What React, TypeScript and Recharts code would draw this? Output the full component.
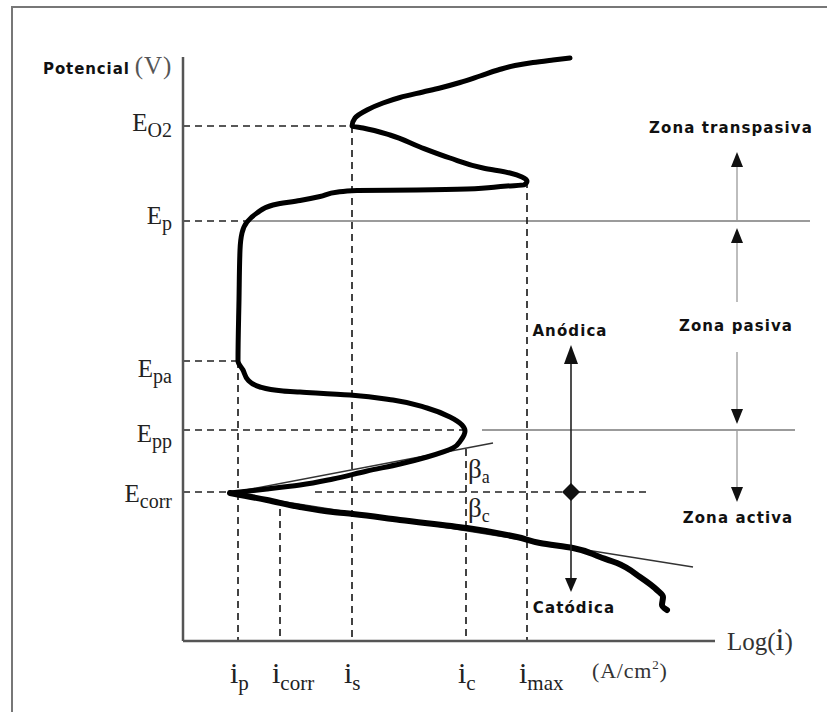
import React from 'react';
import { LineChart, Line, XAxis, YAxis, ReferenceLine, ReferenceDot } from 'recharts';

type Pt = { x: number; y: number };

// Characteristic current densities, on the log(i) scale
const currentNames = ['p', 'corr', 's', 'c', 'max'];
const currentLogI = [5.5, 9.7, 16.9, 28.3, 34.4];

// Characteristic potentials
const potentialNames = ['O2', 'p', 'pa', 'pp', 'corr'];
const potentialValues = [51.5, 42.0, 28.0, 21.1, 14.9];

// Anodic polarization curve: transpassive -> passive -> active, down to E_corr
const anodicBranch: Pt[] = [
  { x: 38.7, y: 58.3 }, { x: 37.0, y: 58.1 }, { x: 35.0, y: 57.85 }, { x: 33.2, y: 57.55 },
  { x: 31.5, y: 57.1 }, { x: 29.7, y: 56.5 }, { x: 27.7, y: 55.85 }, { x: 25.7, y: 55.3 },
  { x: 24.0, y: 54.9 }, { x: 21.7, y: 54.35 }, { x: 20.0, y: 53.8 }, { x: 18.4, y: 53.1 },
  { x: 17.2, y: 52.3 }, { x: 16.9, y: 51.5 }, { x: 18.0, y: 51.3 }, { x: 20.7, y: 50.6 },
  { x: 23.7, y: 49.4 }, { x: 26.7, y: 48.3 }, { x: 30.0, y: 47.3 }, { x: 32.7, y: 46.8 },
  { x: 33.9, y: 46.4 }, { x: 34.4, y: 46.0 }, { x: 34.1, y: 45.6 }, { x: 32.4, y: 45.5 },
  { x: 28.4, y: 45.2 }, { x: 23.4, y: 45.1 }, { x: 17.4, y: 45.05 }, { x: 15.5, y: 44.9 },
  { x: 13.7, y: 44.45 }, { x: 11.7, y: 44.05 }, { x: 9.0, y: 43.6 }, { x: 7.4, y: 42.8 },
  { x: 6.4, y: 41.9 }, { x: 5.9, y: 40.8 }, { x: 5.7, y: 39.1 }, { x: 5.6, y: 34.1 },
  { x: 5.5, y: 28.0 }, { x: 6.0, y: 27.1 }, { x: 6.5, y: 26.1 }, { x: 7.7, y: 25.4 },
  { x: 10.0, y: 25.0 }, { x: 11.7, y: 24.9 }, { x: 16.7, y: 24.6 }, { x: 21.0, y: 24.1 },
  { x: 24.4, y: 23.3 }, { x: 26.7, y: 22.4 }, { x: 27.9, y: 21.6 }, { x: 28.2, y: 21.0 },
  { x: 27.8, y: 20.1 }, { x: 27.0, y: 19.3 }, { x: 24.4, y: 18.4 }, { x: 21.7, y: 17.7 },
  { x: 18.4, y: 17.0 }, { x: 15.0, y: 16.2 }, { x: 11.7, y: 15.6 }, { x: 8.4, y: 15.2 },
  { x: 4.7, y: 14.8 },
];

// Cathodic polarization curve below E_corr
const cathodicBranch: Pt[] = [
  { x: 4.7, y: 14.8 }, { x: 8.4, y: 14.1 }, { x: 11.7, y: 13.4 }, { x: 15.0, y: 12.9 },
  { x: 17.0, y: 12.7 }, { x: 21.7, y: 12.1 }, { x: 28.4, y: 11.3 }, { x: 33.4, y: 10.4 },
  { x: 35.7, y: 9.8 }, { x: 39.0, y: 9.3 }, { x: 41.7, y: 8.4 }, { x: 43.4, y: 7.8 },
  { x: 45.7, y: 6.4 }, { x: 47.4, y: 5.1 }, { x: 48.0, y: 4.4 }, { x: 47.9, y: 3.6 },
  { x: 48.4, y: 3.1 },
];

// Tafel extrapolations from E_corr
const tafelAnodic: Pt[] = [{ x: 4.7, y: 14.8 }, { x: 31.0, y: 19.8 }];
const tafelCathodic: Pt[] = [{ x: 4.7, y: 14.8 }, { x: 51.0, y: 7.4 }];

const [iP, iCorr, iS, iC, iMax] = currentLogI;
const [eO2, eP, ePa, ePp, eCorr] = potentialValues;

const SERIF = 'Liberation Serif, Times New Roman, serif';
const HAND = 'DejaVu Sans, Verdana, sans-serif';

// vertical shift of each potential label relative to its level
const potentialLabelShift = [5, 3, 16, 12, 10];

const PotentialTick = (props: any) => {
  const { x, y, payload } = props;
  const idx = potentialValues.indexOf(payload.value);
  return (
    <text x={x - 11} y={y + potentialLabelShift[idx]} textAnchor="end" fontFamily={SERIF} fill="#222">
      <tspan fontSize={25}>E</tspan>
      <tspan fontSize={20} dy={6}>{potentialNames[idx]}</tspan>
    </text>
  );
};

const CurrentTick = (props: any) => {
  const { x, y, payload } = props;
  const idx = currentLogI.indexOf(payload.value);
  return (
    <text x={x - 8} y={y + 42} fontFamily={SERIF} fill="#222">
      <tspan fontSize={30}>i</tspan>
      <tspan fontSize={21} dy={7}>{currentNames[idx]}</tspan>
    </text>
  );
};

type ArrowOpts = { start?: boolean; end?: boolean; len: number; half: number; stem: string; stemWidth: number };

const arrowShape = (o: ArrowOpts) => (p: any) => {
  const { x1, y1, x2, y2 } = p;
  const dx = x2 - x1;
  const dy = y2 - y1;
  const L = Math.hypot(dx, dy) || 1;
  const ux = dx / L;
  const uy = dy / L;
  const head = (tx: number, ty: number, dx0: number, dy0: number) => {
    const bx = tx - dx0 * o.len;
    const by = ty - dy0 * o.len;
    const nx = -dy0;
    const ny = dx0;
    return `${tx},${ty} ${bx + nx * o.half},${by + ny * o.half} ${bx - nx * o.half},${by - ny * o.half}`;
  };
  const sx = o.start ? x1 + ux * o.len * 0.8 : x1;
  const sy = o.start ? y1 + uy * o.len * 0.8 : y1;
  const ex = o.end ? x2 - ux * o.len * 0.8 : x2;
  const ey = o.end ? y2 - uy * o.len * 0.8 : y2;
  return (
    <g>
      <line x1={sx} y1={sy} x2={ex} y2={ey} stroke={o.stem} strokeWidth={o.stemWidth} />
      {o.end && <polygon points={head(x2, y2, ux, uy)} fill="#111" />}
      {o.start && <polygon points={head(x1, y1, -ux, -uy)} fill="#111" />}
    </g>
  );
};

const zoneArrow = arrowShape({ end: true, len: 15, half: 6, stem: '#9a9a9a', stemWidth: 1.3 });
const anodicArrow = arrowShape({ end: true, len: 19, half: 7, stem: '#222', stemWidth: 1.6 });
const cathodicArrow = arrowShape({ end: true, len: 14, half: 6, stem: '#222', stemWidth: 1.6 });

const diamond = (p: any) => {
  const { cx, cy } = p;
  const s = 9;
  return <polygon points={`${cx},${cy - s} ${cx + s},${cy} ${cx},${cy + s} ${cx - s},${cy}`} fill="#111" />;
};

const handNote = (label: string, anchor: 'start' | 'middle' | 'end' = 'middle') => (p: any) => (
  <text x={p.cx} y={p.cy} textAnchor={anchor} fontFamily={HAND} fontWeight="bold" fontSize={15} letterSpacing={1.1} fill="#111">
    {label}
  </text>
);

const betaNote = (sub: string) => (p: any) => (
  <text x={p.cx} y={p.cy} fontFamily={SERIF} fill="#222">
    <tspan fontSize={27}>β</tspan>
    <tspan fontSize={18} dy={5}>{sub}</tspan>
  </text>
);

const potentialTitle = (p: any) => (
  <text x={p.cx} y={p.cy} fill="#111">
    <tspan fontFamily={HAND} fontWeight="bold" fontSize={15} letterSpacing={0.9}>Potencial</tspan>
    <tspan fontFamily={SERIF} fontSize={25} fill="#555" dx={5} letterSpacing={1}>(V)</tspan>
  </text>
);

const logTitle = (p: any) => (
  <text x={p.cx} y={p.cy} fontFamily={SERIF} fill="#333">
    <tspan fontSize={25}>Log(</tspan>
    <tspan fontSize={32}>i</tspan>
    <tspan fontSize={25}>)</tspan>
  </text>
);

const unitsTitle = (p: any) => (
  <text x={p.cx} y={p.cy} fontFamily={SERIF} fill="#333" fontSize={22} letterSpacing={0.8}>
    <tspan>(A/cm</tspan>
    <tspan fontSize={13} dy={-9}>2</tspan>
    <tspan dy={9}>)</tspan>
  </text>
);

const dashed = { stroke: '#222', strokeWidth: 1.7, strokeDasharray: '7 5' };
const thin = { stroke: '#7a7a7a', strokeWidth: 1.5 };

export default function App() {
  return (
    <div style={{ position: 'absolute', left: 0, top: 0, width: 827, height: 712, background: '#fff' }}>
      <div
        style={{
          position: 'absolute',
          left: 11,
          top: 6,
          width: 816,
          height: 706,
          borderLeft: '2px solid #777',
          borderTop: '2px solid #777',
        }}
      />
      <LineChart width={827} height={712} margin={{ top: 57, right: 112, bottom: 0, left: 0 }}>
        <XAxis
          dataKey="x"
          type="number"
          domain={[0, 53.2]}
          ticks={currentLogI}
          interval={0}
          tick={(p: any) => <CurrentTick {...p} />}
          tickLine={false}
          tickSize={0}
          tickMargin={0}
          height={71}
          axisLine={{ stroke: '#555', strokeWidth: 2.5 }}
        />
        <YAxis
          type="number"
          domain={[0, 58.4]}
          ticks={potentialValues}
          interval={0}
          tick={(p: any) => <PotentialTick {...p} />}
          tickLine={false}
          tickSize={0}
          tickMargin={0}
          width={183}
          axisLine={{ stroke: '#555', strokeWidth: 2.5 }}
        />

        {/* horizontal guides at the characteristic potentials */}
        <ReferenceLine ifOverflow="visible" segment={[{ x: 0, y: eO2 }, { x: iS, y: eO2 }]} {...dashed} />
        <ReferenceLine ifOverflow="visible" segment={[{ x: 0, y: eP }, { x: 6.2, y: eP }]} {...dashed} />
        <ReferenceLine ifOverflow="visible" segment={[{ x: 6.2, y: eP }, { x: 62.7, y: eP }]} {...thin} />
        <ReferenceLine ifOverflow="visible" segment={[{ x: 0, y: ePa }, { x: iP, y: ePa }]} {...dashed} />
        <ReferenceLine ifOverflow="visible" segment={[{ x: 0, y: ePp }, { x: 28.2, y: ePp }]} {...dashed} />
        <ReferenceLine ifOverflow="visible" segment={[{ x: 29.9, y: ePp }, { x: 61.2, y: ePp }]} {...thin} />
        <ReferenceLine ifOverflow="visible" segment={[{ x: 0, y: eCorr }, { x: 4.7, y: eCorr }]} {...dashed} />
        <ReferenceLine ifOverflow="visible" segment={[{ x: 13.2, y: eCorr }, { x: 46.5, y: eCorr }]} {...dashed} />

        {/* vertical guides at the characteristic currents */}
        <ReferenceLine ifOverflow="visible" segment={[{ x: iP, y: ePa }, { x: iP, y: 0 }]} {...dashed} />
        <ReferenceLine ifOverflow="visible" segment={[{ x: iCorr, y: 13.2 }, { x: iCorr, y: 0 }]} {...dashed} />
        <ReferenceLine ifOverflow="visible" segment={[{ x: iS, y: eO2 }, { x: iS, y: 0 }]} {...dashed} />
        <ReferenceLine ifOverflow="visible" segment={[{ x: iC, y: 19.2 }, { x: iC, y: 0 }]} {...dashed} />
        <ReferenceLine ifOverflow="visible" segment={[{ x: iMax, y: 46.0 }, { x: iMax, y: 0 }]} {...dashed} />

        {/* Tafel slopes */}
        <Line data={tafelAnodic} dataKey="y" type="linear" stroke="#333" strokeWidth={1.4} dot={false} isAnimationActive={false} />
        <Line data={tafelCathodic} dataKey="y" type="linear" stroke="#333" strokeWidth={1.4} dot={false} isAnimationActive={false} />

        {/* polarization curve (potential is monotone along each branch) */}
        <Line
          data={anodicBranch}
          dataKey="y"
          type="monotoneY"
          stroke="#000"
          strokeWidth={5}
          strokeLinejoin="round"
          strokeLinecap="round"
          dot={false}
          isAnimationActive={false}
        />
        <Line
          data={cathodicBranch}
          dataKey="y"
          type="monotoneY"
          stroke="#000"
          strokeWidth={6}
          strokeLinejoin="round"
          strokeLinecap="round"
          dot={false}
          isAnimationActive={false}
        />

        {/* zone arrows */}
        <ReferenceLine ifOverflow="visible" segment={[{ x: 55.4, y: eP }, { x: 55.4, y: 48.9 }]} shape={zoneArrow} />
        <ReferenceLine ifOverflow="visible" segment={[{ x: 55.4, y: 33.9 }, { x: 55.4, y: 41.3 }]} shape={zoneArrow} />
        <ReferenceLine ifOverflow="visible" segment={[{ x: 55.4, y: 28.9 }, { x: 55.4, y: 21.7 }]} shape={zoneArrow} />
        <ReferenceLine ifOverflow="visible" segment={[{ x: 55.4, y: ePp }, { x: 55.4, y: 13.9 }]} shape={zoneArrow} />

        {/* anodic / cathodic direction from E_corr */}
        <ReferenceLine ifOverflow="visible" segment={[{ x: 38.8, y: eCorr }, { x: 38.8, y: 29.6 }]} shape={anodicArrow} />
        <ReferenceLine ifOverflow="visible" segment={[{ x: 38.8, y: eCorr }, { x: 38.8, y: 4.9 }]} shape={cathodicArrow} />
        <ReferenceDot ifOverflow="visible" x={38.8} y={eCorr} r={9} shape={diamond} />

        {/* annotations */}
        <ReferenceDot ifOverflow="visible" x={54.8} y={50.8} r={0} shape={handNote('Zona transpasiva')} />
        <ReferenceDot ifOverflow="visible" x={55.3} y={31.0} r={0} shape={handNote('Zona pasiva')} />
        <ReferenceDot ifOverflow="visible" x={55.5} y={11.8} r={0} shape={handNote('Zona activa')} />
        <ReferenceDot ifOverflow="visible" x={38.7} y={30.5} r={0} shape={handNote('Anódica')} />
        <ReferenceDot ifOverflow="visible" x={39.1} y={2.8} r={0} shape={handNote('Catódica')} />
        <ReferenceDot ifOverflow="visible" x={28.5} y={16.3} r={0} shape={betaNote('a')} />
        <ReferenceDot ifOverflow="visible" x={28.5} y={12.4} r={0} shape={betaNote('c')} />
        <ReferenceDot ifOverflow="visible" x={-14.0} y={56.7} r={0} shape={potentialTitle} />
        <ReferenceDot ifOverflow="visible" x={54.4} y={-0.9} r={0} shape={logTitle} />
        <ReferenceDot ifOverflow="visible" x={40.9} y={-3.7} r={0} shape={unitsTitle} />
      </LineChart>
    </div>
  );
}
